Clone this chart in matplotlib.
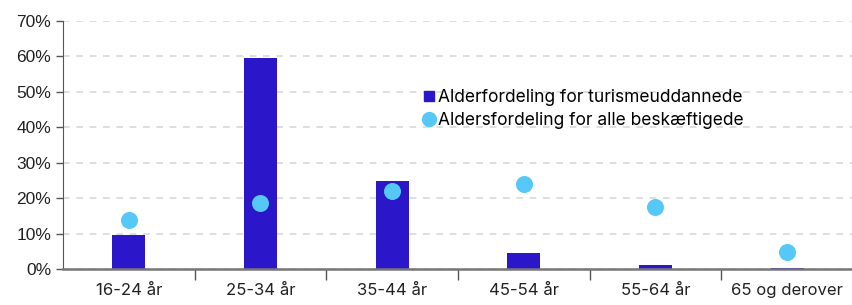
import numpy as np
import matplotlib
matplotlib.use("Agg")
import matplotlib.pyplot as plt
from matplotlib.lines import Line2D

categories = ["16-24 år", "25-34 år", "35-44 år", "45-54 år", "55-64 år", "65 og derover"]
turisme = [9.6, 59.6, 24.9, 4.5, 1.1, 0.2]
alle = [13.8, 18.6, 22.0, 24.0, 17.5, 4.8]
yticks = [0, 10, 20, 30, 40, 50, 60, 70]

bar_color = "#2B17C9"
dot_color = "#55C8F8"

plt.rcParams["font.family"] = ["Inter", "DejaVu Sans"]

fig = plt.figure(figsize=(8.53, 3.05), dpi=100)
ax = fig.add_axes([63 / 853, 36 / 305, 790 / 853, 248 / 305])

x = np.arange(len(categories))
ax.bar(x, turisme, width=0.25, color=bar_color, zorder=3)
ax.scatter(x, alle, s=150, color=dot_color, zorder=4, linewidths=0)

ax.set_xlim(-0.5, len(categories) - 0.5)
ax.set_ylim(0, 70)
ax.set_yticks(yticks)
ax.set_yticklabels([f"{v}%" for v in yticks], fontfamily="Liberation Sans", fontsize=12.5, color="#222222")
ax.yaxis.grid(True, linestyle=(0, (4, 4)), color="#d8d8d8", linewidth=1.2, zorder=0)

ax.set_xticks(x)
ax.set_xticklabels(categories, fontsize=12, color="#222222")
ax.set_xticks(x[:-1] + 0.5, minor=True)
ax.tick_params(axis="x", which="major", length=0, pad=10)
ax.tick_params(axis="x", which="minor", length=8, color="#555555", width=1)
ax.tick_params(axis="y", length=5, color="#555555", width=1)

for s in ["top", "right"]:
    ax.spines[s].set_visible(False)
ax.spines["left"].set_color("#555555")
ax.spines["bottom"].set_color("#777777")
ax.spines["bottom"].set_linewidth(1.8)
ax.spines["bottom"].set_zorder(5)

handles = [
    Line2D([], [], marker="s", linestyle="none", color=bar_color, markersize=7),
    Line2D([], [], marker="o", linestyle="none", color=dot_color, markersize=10),
]
ax.legend(handles, ["Alderfordeling for turismeuddannede", "Aldersfordeling for alle beskæftigede"],
          loc="center left", bbox_to_anchor=(0.432, 0.645), frameon=False,
          handletextpad=0.05, handlelength=1.0, labelspacing=0.3, fontsize=12.5)

fig.savefig("out.png", dpi=100)
